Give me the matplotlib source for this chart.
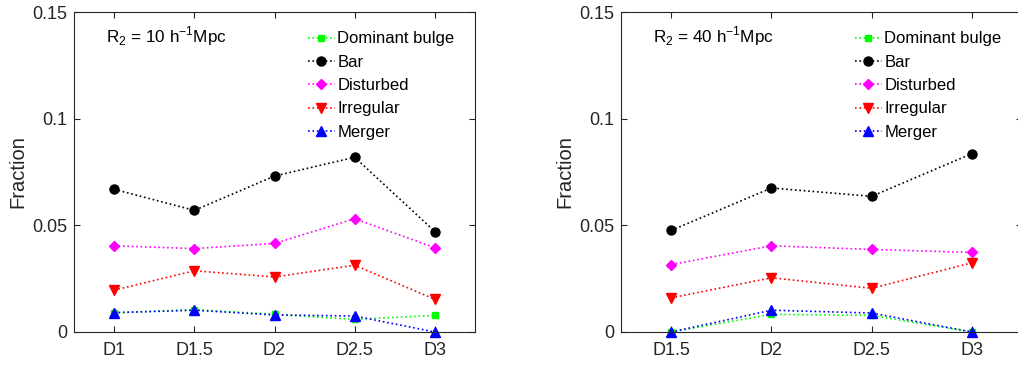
import matplotlib
matplotlib.use('Agg')
import matplotlib.pyplot as plt

plt.rcParams['font.family'] = ['Liberation Sans', 'DejaVu Sans']
plt.rcParams['mathtext.fontset'] = 'custom'
plt.rcParams['mathtext.rm'] = 'Liberation Sans'

AXIS_COLOR = '#262626'

labels_10 = ['D1', 'D1.5', 'D2', 'D2.5', 'D3']
bulge_10 = [0.0089, 0.0105, 0.0083, 0.0059, 0.0078]
bar_10 = [0.0669, 0.0570, 0.0731, 0.0819, 0.0471]
disturbed_10 = [0.0404, 0.0391, 0.0415, 0.0531, 0.0395]
irregular_10 = [0.0196, 0.0287, 0.0258, 0.0313, 0.0153]
merger_10 = [0.0091, 0.0102, 0.0080, 0.0075, 0.0]

labels_40 = ['D1.5', 'D2', 'D2.5', 'D3']
bulge_40 = [0.0, 0.0083, 0.0078, 0.0]
bar_40 = [0.0476, 0.0675, 0.0636, 0.0836]
disturbed_40 = [0.0316, 0.0404, 0.0387, 0.0373]
irregular_40 = [0.0160, 0.0254, 0.0205, 0.0324]
merger_40 = [0.0, 0.0102, 0.0089, 0.0]

series_names = ['Dominant bulge', 'Bar', 'Disturbed', 'Irregular', 'Merger']
series_colors = ['#00ff00', 'black', '#ff00ff', 'red', 'blue']
series_markers = ['s', 'o', 'D', 'v', '^']
series_sizes = [5, 6.5, 5.5, 7, 7]


def draw_panel(ax, labels, values, title):
    xs = list(range(1, len(labels) + 1))
    for name, ys, color, marker, size in zip(series_names, values, series_colors,
                                             series_markers, series_sizes):
        ax.plot(xs, ys, linestyle=':', linewidth=1.2, color=color, marker=marker,
                markersize=size, markerfacecolor=color,
                markeredgecolor=color, label=name, clip_on=False)
    ax.set_xlim(0.5, len(labels) + 0.5)
    ax.set_ylim(0, 0.15)
    ax.set_xticks(xs)
    ax.set_xticklabels(labels)
    ax.set_yticks([0, 0.05, 0.1, 0.15])
    ax.set_yticklabels(['0', '0.05', '0.1', '0.15'])
    ax.tick_params(direction='in', top=True, right=True, length=4, width=0.8,
                   colors=AXIS_COLOR, labelsize=13, labelcolor=AXIS_COLOR)
    ax.tick_params(axis='y', pad=5)
    ax.tick_params(axis='x', pad=7)
    for spine in ax.spines.values():
        spine.set_color(AXIS_COLOR)
        spine.set_linewidth(0.8)
    ax.set_ylabel('Fraction', fontsize=14.5, color=AXIS_COLOR, labelpad=3)
    ax.text(0.08, 0.96, title, transform=ax.transAxes, fontsize=12.3,
            va='top', ha='left', color='black')
    ax.legend(loc='upper right', frameon=False, fontsize=12, handlelength=1.6,
              handletextpad=0.15, labelspacing=0.5, borderaxespad=0.0,
              bbox_to_anchor=(0.965, 0.96))


fig = plt.figure(figsize=(10.18, 3.65), dpi=100)
ax1 = fig.add_axes([74 / 1018, 1 - 332 / 365, 401 / 1018, 320 / 365])
ax2 = fig.add_axes([621 / 1018, 1 - 332 / 365, 401 / 1018, 320 / 365])

draw_panel(ax1, labels_10, [bulge_10, bar_10, disturbed_10, irregular_10, merger_10],
           r'R$_2$ = 10 h$^{-1}$Mpc')
draw_panel(ax2, labels_40, [bulge_40, bar_40, disturbed_40, irregular_40, merger_40],
           r'R$_2$ = 40 h$^{-1}$Mpc')

fig.savefig('out.png', dpi=100)
